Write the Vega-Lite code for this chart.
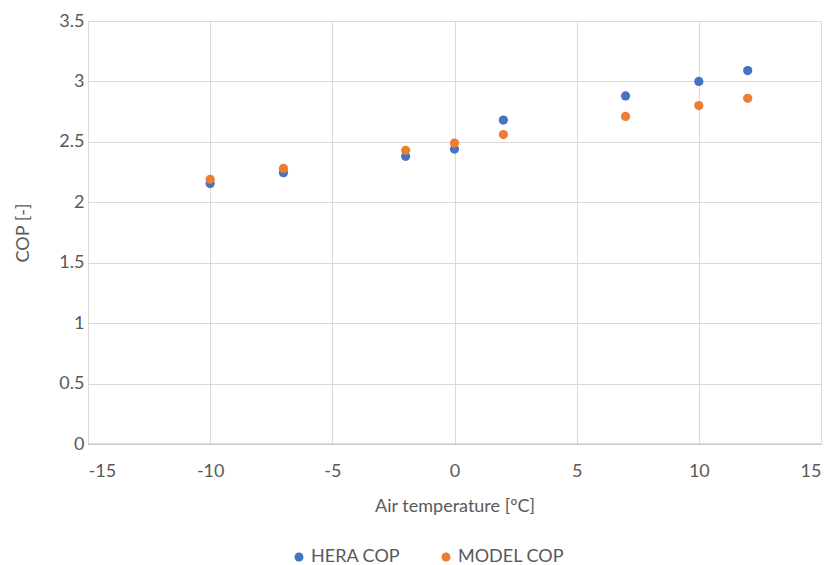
{
  "$schema": "https://vega.github.io/schema/vega-lite/v6.json",
  "width": 733,
  "height": 423,
  "autosize": "none",
  "padding": {"left": 88, "top": 21, "right": 12, "bottom": 121},
  "background": "white",
  "config": {
    "font": "Lato",
    "view": {"stroke": null},
    "axis": {
      "labelFont": "Lato",
      "titleFont": "Lato",
      "labelColor": "#595959",
      "titleColor": "#595959",
      "labelFontSize": 18,
      "titleFontSize": 18,
      "titleFontWeight": "normal",
      "gridColor": "#d9d9d9",
      "gridWidth": 1,
      "ticks": false,
      "domain": false
    }
  },
  "data": {
    "values": [
      {"t": -10, "series": "HERA COP", "cop": 2.155},
      {"t": -7, "series": "HERA COP", "cop": 2.245},
      {"t": -2, "series": "HERA COP", "cop": 2.38},
      {"t": 0, "series": "HERA COP", "cop": 2.44},
      {"t": 2, "series": "HERA COP", "cop": 2.68},
      {"t": 7, "series": "HERA COP", "cop": 2.88},
      {"t": 10, "series": "HERA COP", "cop": 3.0},
      {"t": 12, "series": "HERA COP", "cop": 3.09},
      {"t": -10, "series": "MODEL COP", "cop": 2.19},
      {"t": -7, "series": "MODEL COP", "cop": 2.28},
      {"t": -2, "series": "MODEL COP", "cop": 2.43},
      {"t": 0, "series": "MODEL COP", "cop": 2.49},
      {"t": 2, "series": "MODEL COP", "cop": 2.56},
      {"t": 7, "series": "MODEL COP", "cop": 2.71},
      {"t": 10, "series": "MODEL COP", "cop": 2.80},
      {"t": 12, "series": "MODEL COP", "cop": 2.86}
    ]
  },
  "layer": [
    {
      "mark": {"type": "rule", "color": "#bfbfbf", "strokeWidth": 1},
      "data": {"values": [{"y0": 0}]},
      "encoding": {"y": {"field": "y0", "type": "quantitative"}}
    },
    {
      "mark": {"type": "circle", "size": 85, "opacity": 1},
      "encoding": {
        "x": {
          "field": "t",
          "type": "quantitative",
          "scale": {"domain": [-15, 15], "nice": false},
          "axis": {"values": [-15, -10, -5, 0, 5, 10, 15], "labelExpr": "toString(datum.value)", "title": "Air temperature [ºC]", "labelPadding": 18, "titlePadding": 17}
        },
        "y": {
          "field": "cop",
          "type": "quantitative",
          "scale": {"domain": [0, 3.5], "nice": false},
          "axis": {"values": [0, 0.5, 1, 1.5, 2, 2.5, 3, 3.5], "labelExpr": "toString(datum.value)", "title": "COP [-]", "labelPadding": 4, "titlePadding": 26}
        },
        "color": {
          "field": "series",
          "type": "nominal",
          "scale": {"domain": ["HERA COP", "MODEL COP"], "range": ["#4472c4", "#ed7d31"]},
          "legend": {
            "title": null,
            "orient": "none",
            "direction": "horizontal",
            "legendX": 202,
            "legendY": 527,
            "labelFont": "Lato",
            "labelFontSize": 18,
            "labelColor": "#595959",
            "symbolType": "circle",
            "symbolSize": 80,
            "columnPadding": 36,
            "labelOffset": 3
          }
        }
      }
    }
  ]
}
